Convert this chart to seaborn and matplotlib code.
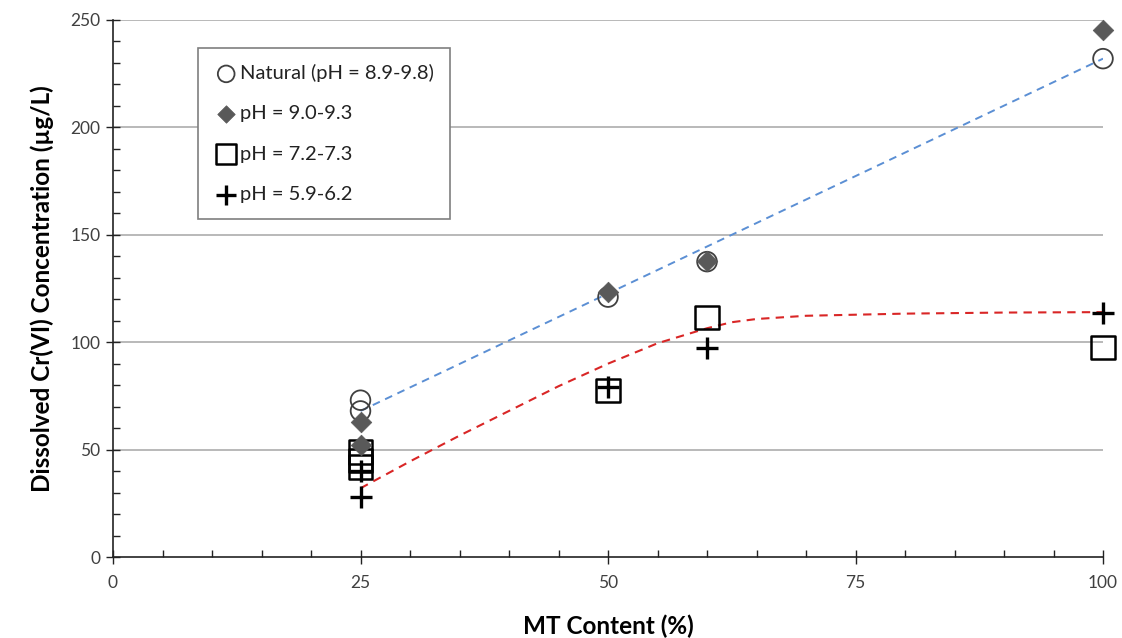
import numpy as np
import pandas as pd
import matplotlib
matplotlib.use("Agg")
import matplotlib.pyplot as plt
from matplotlib.ticker import MultipleLocator
import seaborn as sns

sns.set_theme(style="white")
plt.rcParams["font.family"] = ["Lato", "DejaVu Sans"]

# Measured dissolved Cr(VI) by MT content for each pH condition
natural_x = [25, 25, 50, 60, 100]
natural_y = [73, 68, 121, 137.5, 232]

ph90_x = [25, 25, 50, 60, 100]
ph90_y = [63, 52, 123.5, 138, 245.5]

ph72_x = [25, 25, 25, 50, 60, 100]
ph72_y = [49, 45, 42, 77.5, 111.5, 97.5]

ph59_x = [25, 25, 50, 60, 100]
ph59_y = [40, 28, 79, 97.5, 113.7]

# Trend lines
blue_trend_x = [25, 100]
blue_trend_y = [68, 232]

red_trend_x = [25, 30, 35, 40, 45, 50, 55, 60, 62.5, 65, 70, 80, 90, 100]
red_trend_y = [32, 44.5, 56.5, 68, 79.5, 90, 99.5, 106.5, 109.3, 110.8, 112.3, 113.3, 113.8, 114]

labels = ["Natural (pH = 8.9-9.8)", "pH = 9.0-9.3", "pH = 7.2-7.3", "pH = 5.9-6.2"]

fig = plt.figure(figsize=(11.22, 6.38), dpi=100)
ax = fig.add_axes([113 / 1122, 1 - 557 / 638, (1103 - 113) / 1122, (557 - 20) / 638])

ax.set_xlim(0, 100)
ax.set_ylim(0, 250)

# horizontal gridlines
for yv in [50, 100, 150, 200, 250]:
    ax.axhline(yv, color="#b3b3b3", lw=1.3, zorder=0)

sns.lineplot(x=blue_trend_x, y=blue_trend_y, ax=ax, color="#5b8fd4",
             lw=1.4, linestyle=(0, (4, 3)), sort=False, estimator=None, zorder=2)
sns.lineplot(x=red_trend_x, y=red_trend_y, ax=ax, color="#d92626",
             lw=1.5, linestyle=(0, (4, 3)), sort=False, estimator=None, zorder=2)

sns.scatterplot(x=natural_x, y=natural_y, ax=ax, marker="o", s=200,
                facecolor="none", edgecolor="#404040", linewidth=1.3,
                label=labels[0], zorder=3, clip_on=False)
sns.scatterplot(x=ph90_x, y=ph90_y, ax=ax, marker="D", s=110,
                color="#595959", edgecolor="#595959", linewidth=0.5,
                label=labels[1], zorder=4, clip_on=False)
sns.scatterplot(x=ph72_x, y=ph72_y, ax=ax, marker="s", s=290,
                facecolor="none", edgecolor="black", linewidth=1.8,
                label=labels[2], zorder=3, clip_on=False)
sns.scatterplot(x=ph59_x, y=ph59_y, ax=ax, marker="+", s=260,
                color="black", linewidth=2.4, label=labels[3], zorder=5,
                clip_on=False)

# axes styling
for side in ["top", "right"]:
    ax.spines[side].set_visible(False)
for side in ["left", "bottom"]:
    ax.spines[side].set_color("#222222")
    ax.spines[side].set_linewidth(1.2)

ax.xaxis.set_major_locator(MultipleLocator(25))
ax.xaxis.set_minor_locator(MultipleLocator(5))
ax.yaxis.set_major_locator(MultipleLocator(50))
ax.yaxis.set_minor_locator(MultipleLocator(10))
ax.tick_params(axis="both", which="both", bottom=True, left=True)
ax.tick_params(axis="both", which="major", direction="inout", length=10,
               width=1, color="#222222", labelsize=12.5, labelcolor="#404040")
ax.tick_params(axis="both", which="minor", direction="in", length=5,
               width=1, color="#222222")
ax.tick_params(axis="x", which="major", pad=8)
ax.tick_params(axis="y", which="major", pad=4)

ax.set_xlabel("MT Content (%)", fontsize=17.5, fontweight="bold",
              labelpad=17, color="black")
ax.set_ylabel("Dissolved Cr(VI) Concentration (µg/L)", fontsize=17.5,
              fontweight="bold", labelpad=12, color="black")

leg = ax.legend(loc="upper left", bbox_to_anchor=(198 / 1122, 1 - 48 / 638),
                bbox_transform=fig.transFigure, fontsize=14.5, frameon=True,
                fancybox=False, edgecolor="#7f7f7f", framealpha=1,
                labelspacing=1.15, handletextpad=0.1, borderpad=0.8,
                handlelength=1.2, markerscale=0.85, borderaxespad=0)
leg.get_frame().set_linewidth(1.2)
for t in leg.get_texts():
    t.set_color("#222222")

fig.savefig("out.png", dpi=100)
